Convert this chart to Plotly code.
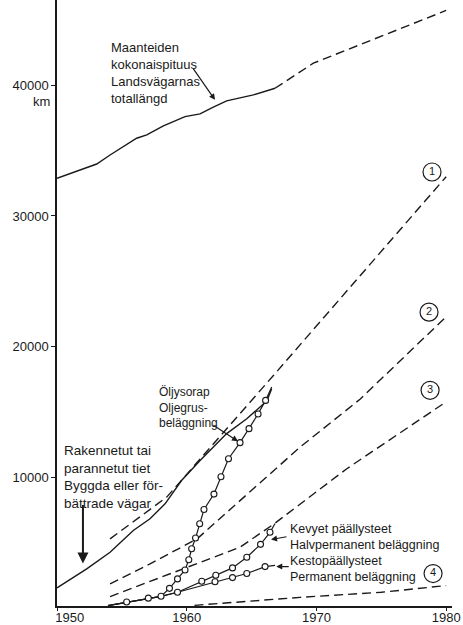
import plotly.graph_objects as go

# ---- data (years, km) ----
total_years = [1950.0, 1953.06, 1954.09, 1956.14, 1956.92, 1958.2, 1959.87, 1961.03, 1962.05, 1963.08, 1965.14, 1966.81]
total_vals = [32880, 33970, 34660, 35940, 36190, 36880, 37590, 37800, 38310, 38790, 39250, 39760]
total_proj_years = [1966.81, 1969.76, 1980.0]
total_proj_vals = [39760, 41670, 45700]

built_years = [1950.0, 1952.29, 1954.09, 1955.88, 1957.17, 1958.33, 1959.6, 1961.03, 1963.08, 1964.63, 1966.17, 1966.55]
built_vals = [1580, 3040, 4310, 5970, 6860, 8010, 9790, 11320, 13370, 14510, 15860, 16800]

oil_years = [1953.93, 1955.37, 1957.04, 1958.02, 1958.67, 1959.29, 1959.87, 1960.16, 1960.38, 1960.68, 1961.0,
             1961.33, 1962.1, 1962.64, 1963.22, 1964.11, 1964.8, 1965.5, 1966.08, 1966.55]
oil_vals = [230, 500, 800, 940, 1550, 2270, 2950, 3730, 4570, 5390, 6480,
            7570, 8750, 10080, 11450, 12680, 13750, 14870, 15910, 16930]

halv_years = [1953.93, 1955.37, 1957.04, 1958.02, 1959.29, 1961.16, 1962.24, 1963.53, 1964.63, 1965.69, 1966.42, 1966.81]
halv_vals = [230, 500, 800, 940, 1250, 2090, 2550, 3110, 3920, 4910, 5830, 6500]

perm_years = [1953.93, 1955.37, 1957.04, 1958.02, 1959.29, 1962.18, 1963.53, 1964.63, 1966.04, 1966.81]
perm_vals = [230, 500, 800, 940, 1250, 2050, 2370, 2680, 3210, 3310]

proj1_years = [1954.09, 1958.46, 1966.7, 1973.0, 1980.0]
proj1_vals = [5330, 8520, 17830, 25000, 33000]
proj2_years = [1954.09, 1957.17, 1960.8, 1968.74, 1973.36, 1980.0]
proj2_vals = [1890, 3420, 5330, 12340, 16000, 22300]
proj3_years = [1954.09, 1964.11, 1966.81, 1972.34, 1980.0]
proj3_vals = [920, 4690, 6530, 10690, 15800]
proj4_years = [1960.6, 1968.74, 1975.0, 1980.0]
proj4_vals = [250, 860, 1250, 1760]

x_ticks = [1950, 1960, 1970, 1980]
x_ticktext = ["\u00a0\u00a0\u00a0\u00a0\u00a0\u00a0\u00a01950", "1960", "1970", "1980"]
y_ticks = [10000, 20000, 30000, 40000]
y_ticktext = ["10000", "20000", "30000", "40000"]

FONT = "Liberation Sans"
BLACK = "#1a1a1a"
DASH = "9px,5px"

fig = go.Figure()

def line(x, y, dash="solid", width=1.4):
    fig.add_trace(go.Scatter(x=x, y=y, mode="lines",
                             line=dict(color=BLACK, width=width, dash=dash),
                             hoverinfo="skip", showlegend=False))

def circles(x, y):
    fig.add_trace(go.Scatter(x=x, y=y, mode="markers",
                             marker=dict(symbol="circle", size=6, color="white",
                                         line=dict(color=BLACK, width=1.1)),
                             hoverinfo="skip", showlegend=False))

line(total_years, total_vals)
line(total_proj_years, total_proj_vals, DASH)
line(proj1_years, proj1_vals, DASH)
line(proj2_years, proj2_vals, DASH)
line(proj3_years, proj3_vals, DASH)
line(proj4_years, proj4_vals, DASH)
line(built_years, built_vals)
line(oil_years, oil_vals, width=1.2)
line(halv_years, halv_vals, width=1.2)
line(perm_years, perm_vals, width=1.2)
circles(oil_years[1:-1], oil_vals[1:-1])
circles(halv_years[4:-1], halv_vals[4:-1])
circles(perm_years[5:-1], perm_vals[5:-1])

# circled projection numbers
num_labels = ["1", "2", "3", "4"]
num_x = [1978.91, 1978.68, 1978.76, 1978.99]
num_y = [33360, 22650, 16680, 2680]
fig.add_trace(go.Scatter(x=num_x, y=num_y, mode="markers+text", text=num_labels,
                         textposition="middle center",
                         textfont=dict(family=FONT, size=11, color=BLACK),
                         marker=dict(symbol="circle-open", size=18, color=BLACK, line=dict(width=1.2)),
                         hoverinfo="skip", showlegend=False))

ann = []
def text(x, y, t, size=13):
    ann.append(dict(x=x, y=y, xref="x", yref="y", text=t, showarrow=False, xanchor="left",
                    yanchor="top", align="left", font=dict(family=FONT, size=size, color=BLACK)))

def arrow(x, y, ax, ay, width=1.2, head=1.0):
    ann.append(dict(x=x, y=y, xref="x", yref="y", ax=ax, ay=ay, text="", showarrow=True,
                    arrowhead=2, arrowsize=head, arrowwidth=width, arrowcolor=BLACK))

text(1954.0, 43600, "Maanteiden<br>kokonaispituus<br>Landsvägarnas<br>totallängd", 13)
arrow(1962.18, 38870, -23, -33)
text(1950.4, 12770, "Rakennetut tai<br>parannetut tiet<br>Byggda eller för-<br>bättrade vägar", 13.5)
arrow(1952.0, 3440, 0, -60, width=2, head=1.1)
text(1957.7, 17250, "Öljysorap<br>Oljegrus-<br>beläggning", 12)
arrow(1963.95, 12780, -26, -17)
text(1967.8, 6780, "Kevyet päällysteet<br>Halvpermanent beläggning", 12.5)
arrow(1966.5, 5280, 17, -3)
text(1967.8, 4330, "Kestopäällysteet<br>Permanent beläggning", 12.5)
arrow(1966.9, 3210, 14, 0)
ann.append(dict(x=0, y=40000, xref="paper", yref="y", text="km", showarrow=False, xanchor="right",
                xshift=-5, yshift=-16, font=dict(family=FONT, size=13, color=BLACK)))

fig.update_layout(
    width=463, height=625,
    margin=dict(l=57, r=11, t=0, b=19, autoexpand=False),
    paper_bgcolor="white", plot_bgcolor="white",
    annotations=ann,
    xaxis=dict(range=[1950, 1980.45], tickvals=x_ticks, ticktext=x_ticktext, automargin=False,
               showline=True, linecolor=BLACK, linewidth=1.5, ticks="outside", ticklen=3,
               tickcolor=BLACK, showgrid=False, zeroline=False, ticklabelstandoff=-4,
               tickfont=dict(family=FONT, size=13, color=BLACK)),
    yaxis=dict(range=[200, 46500], tickvals=y_ticks, ticktext=y_ticktext, automargin=False,
               showline=True, linecolor=BLACK, linewidth=1.5, ticks="outside", ticklen=4,
               tickcolor=BLACK, showgrid=False, zeroline=False,
               tickfont=dict(family=FONT, size=13, color=BLACK)),
)

fig.write_html("out.html", config={"displayModeBar": False},
               post_script="document.body.style.margin='0';document.body.style.overflow='hidden';")
